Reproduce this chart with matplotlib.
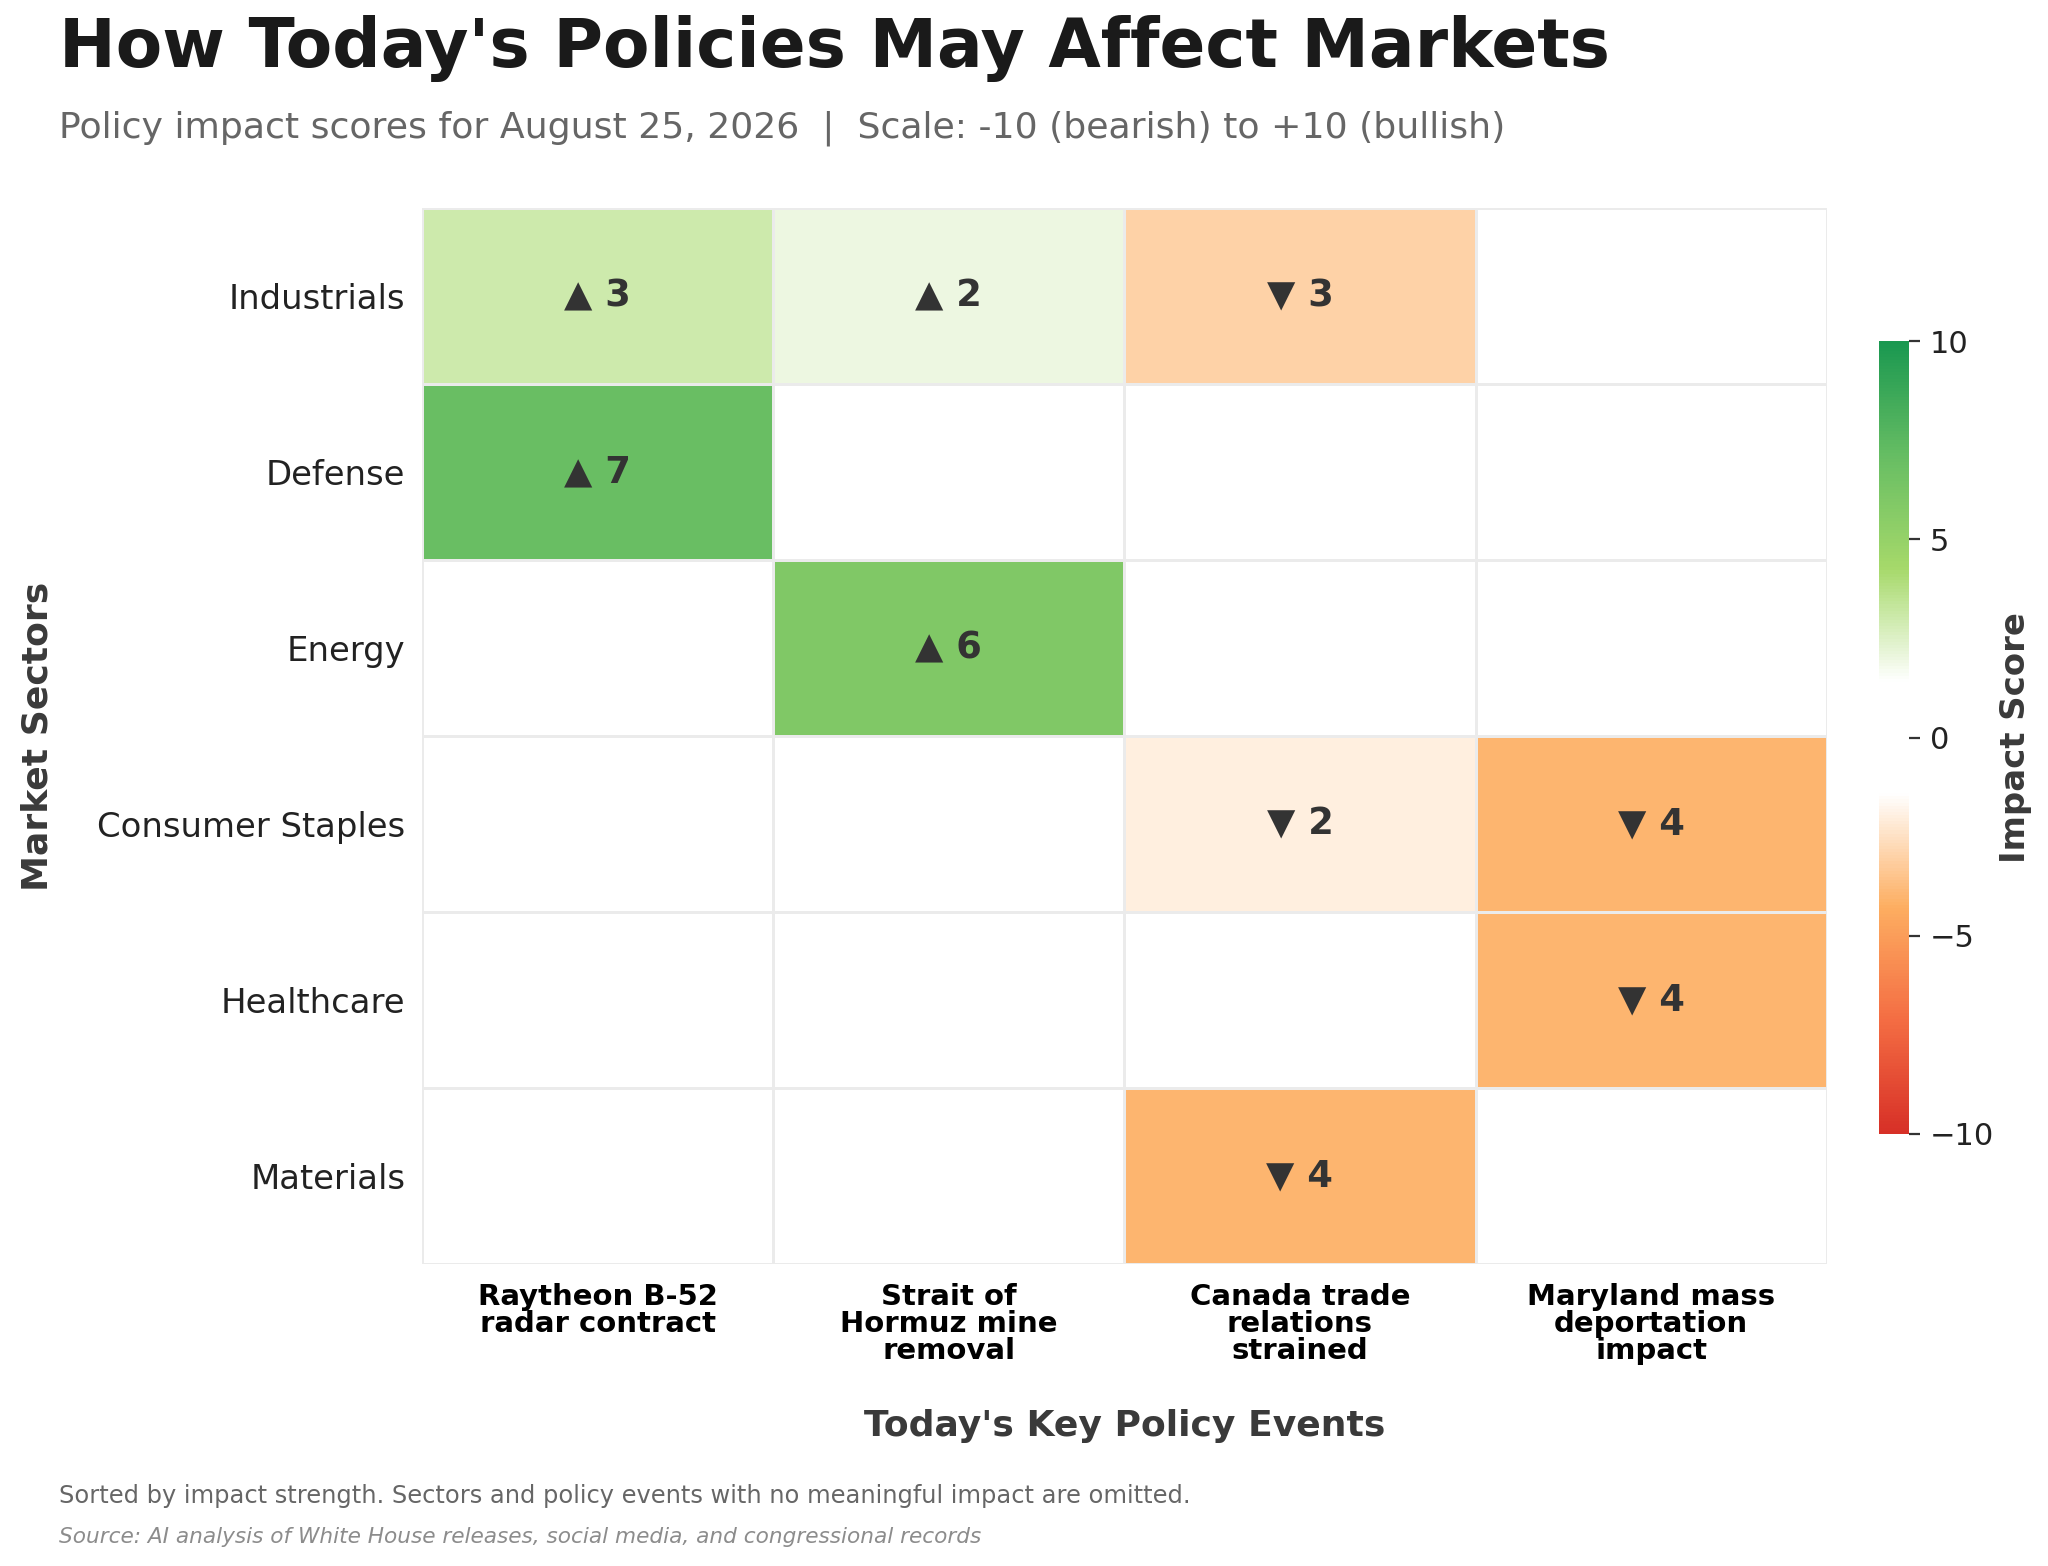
import matplotlib
matplotlib.use("Agg")
import matplotlib.pyplot as plt
import numpy as np
from matplotlib.colors import LinearSegmentedColormap

# Data
sectors = ["Industrials", "Defense", "Energy", "Consumer Staples", "Healthcare", "Materials"]
events = ["Raytheon B-52\nradar contract",
          "Strait of\nHormuz mine\nremoval",
          "Canada trade\nrelations\nstrained",
          "Maryland mass\ndeportation\nimpact"]
industrials = [3, 2, -3, 0]
defense = [7, 0, 0, 0]
energy = [0, 6, 0, 0]
consumer_staples = [0, 0, -2, -4]
healthcare = [0, 0, 0, -4]
materials = [0, 0, -4, 0]

scores = np.array([industrials, defense, energy, consumer_staples, healthcare, materials], dtype=float)

cmap = LinearSegmentedColormap.from_list(
    "impact",
    ["#d73027", "#f46d43", "#fdae61", "#ffffff", "#ffffff", "#a6d96a", "#66bd63", "#1a9850"],
)

plt.rcParams['font.family'] = ['DejaVu Sans']

fig = plt.figure(figsize=(10.24, 7.83), dpi=200)
ax = fig.add_axes([0.206, 0.193, 0.686, 0.674])

mesh = ax.pcolormesh(scores, cmap=cmap, vmin=-10, vmax=10,
                     edgecolors="#ebebeb", linewidth=0.4)
ax.set_xlim(0, len(events))
ax.set_ylim(len(sectors), 0)

ax.set_xticks(np.arange(len(events)) + 0.5)
ax.set_xticklabels(events, fontsize=10.5, fontweight="bold", linespacing=0.95)
ax.set_yticks(np.arange(len(sectors)) + 0.5)
ax.set_yticklabels(sectors, fontsize=12.2, color="#222222")
ax.tick_params(axis="both", length=0)
ax.tick_params(axis="x", pad=7)
ax.tick_params(axis="y", pad=6)
for s in ax.spines.values():
    s.set_visible(False)

# annotate cells with arrows
for i in range(scores.shape[0]):
    for j in range(scores.shape[1]):
        v = scores[i, j]
        if v == 0:
            continue
        arrow = "\u25b2" if v > 0 else "\u25bc"
        ax.text(j + 0.5, i + 0.5, f"{arrow} {abs(int(v))}", ha="center", va="center",
                fontsize=13.3, fontweight="bold", color="#333333")

ax.set_xlabel("Today's Key Policy Events", fontsize=13, fontweight="bold",
              color="#3a3a3a", labelpad=16)
ax.set_ylabel("Market Sectors", fontsize=13, fontweight="bold", color="#3a3a3a", labelpad=15.5)

cax = fig.add_axes([0.9175, 0.276, 0.0145, 0.506])
cb = fig.colorbar(mesh, cax=cax, ticks=[-10, -5, 0, 5, 10])
cb.outline.set_visible(False)
cb.ax.tick_params(labelsize=11, length=4, color="#333333", labelcolor="#222222")
cb.set_label("Impact Score", fontsize=12.2, fontweight="bold", color="#3a3a3a", labelpad=2)

fig.text(0.029, 0.957, "How Today's Policies May Affect Markets", fontsize=24.4,
         fontweight="bold", color="#1a1a1a", ha="left", va="baseline")
fig.text(0.029, 0.912, "Policy impact scores for August 25, 2026  |  Scale: -10 (bearish) to +10 (bullish)",
         fontsize=13.05, color="#666666", ha="left", va="baseline")
fig.text(0.029, 0.045, "Sorted by impact strength. Sectors and policy events with no meaningful impact are omitted.",
         fontsize=8.7, color="#666666", ha="left", va="center")
fig.text(0.029, 0.0185, "Source: AI analysis of White House releases, social media, and congressional records",
         fontsize=7.8, color="#8c8c8c", style="italic", ha="left", va="center")

fig.savefig("out.png", dpi=200, facecolor="white")
